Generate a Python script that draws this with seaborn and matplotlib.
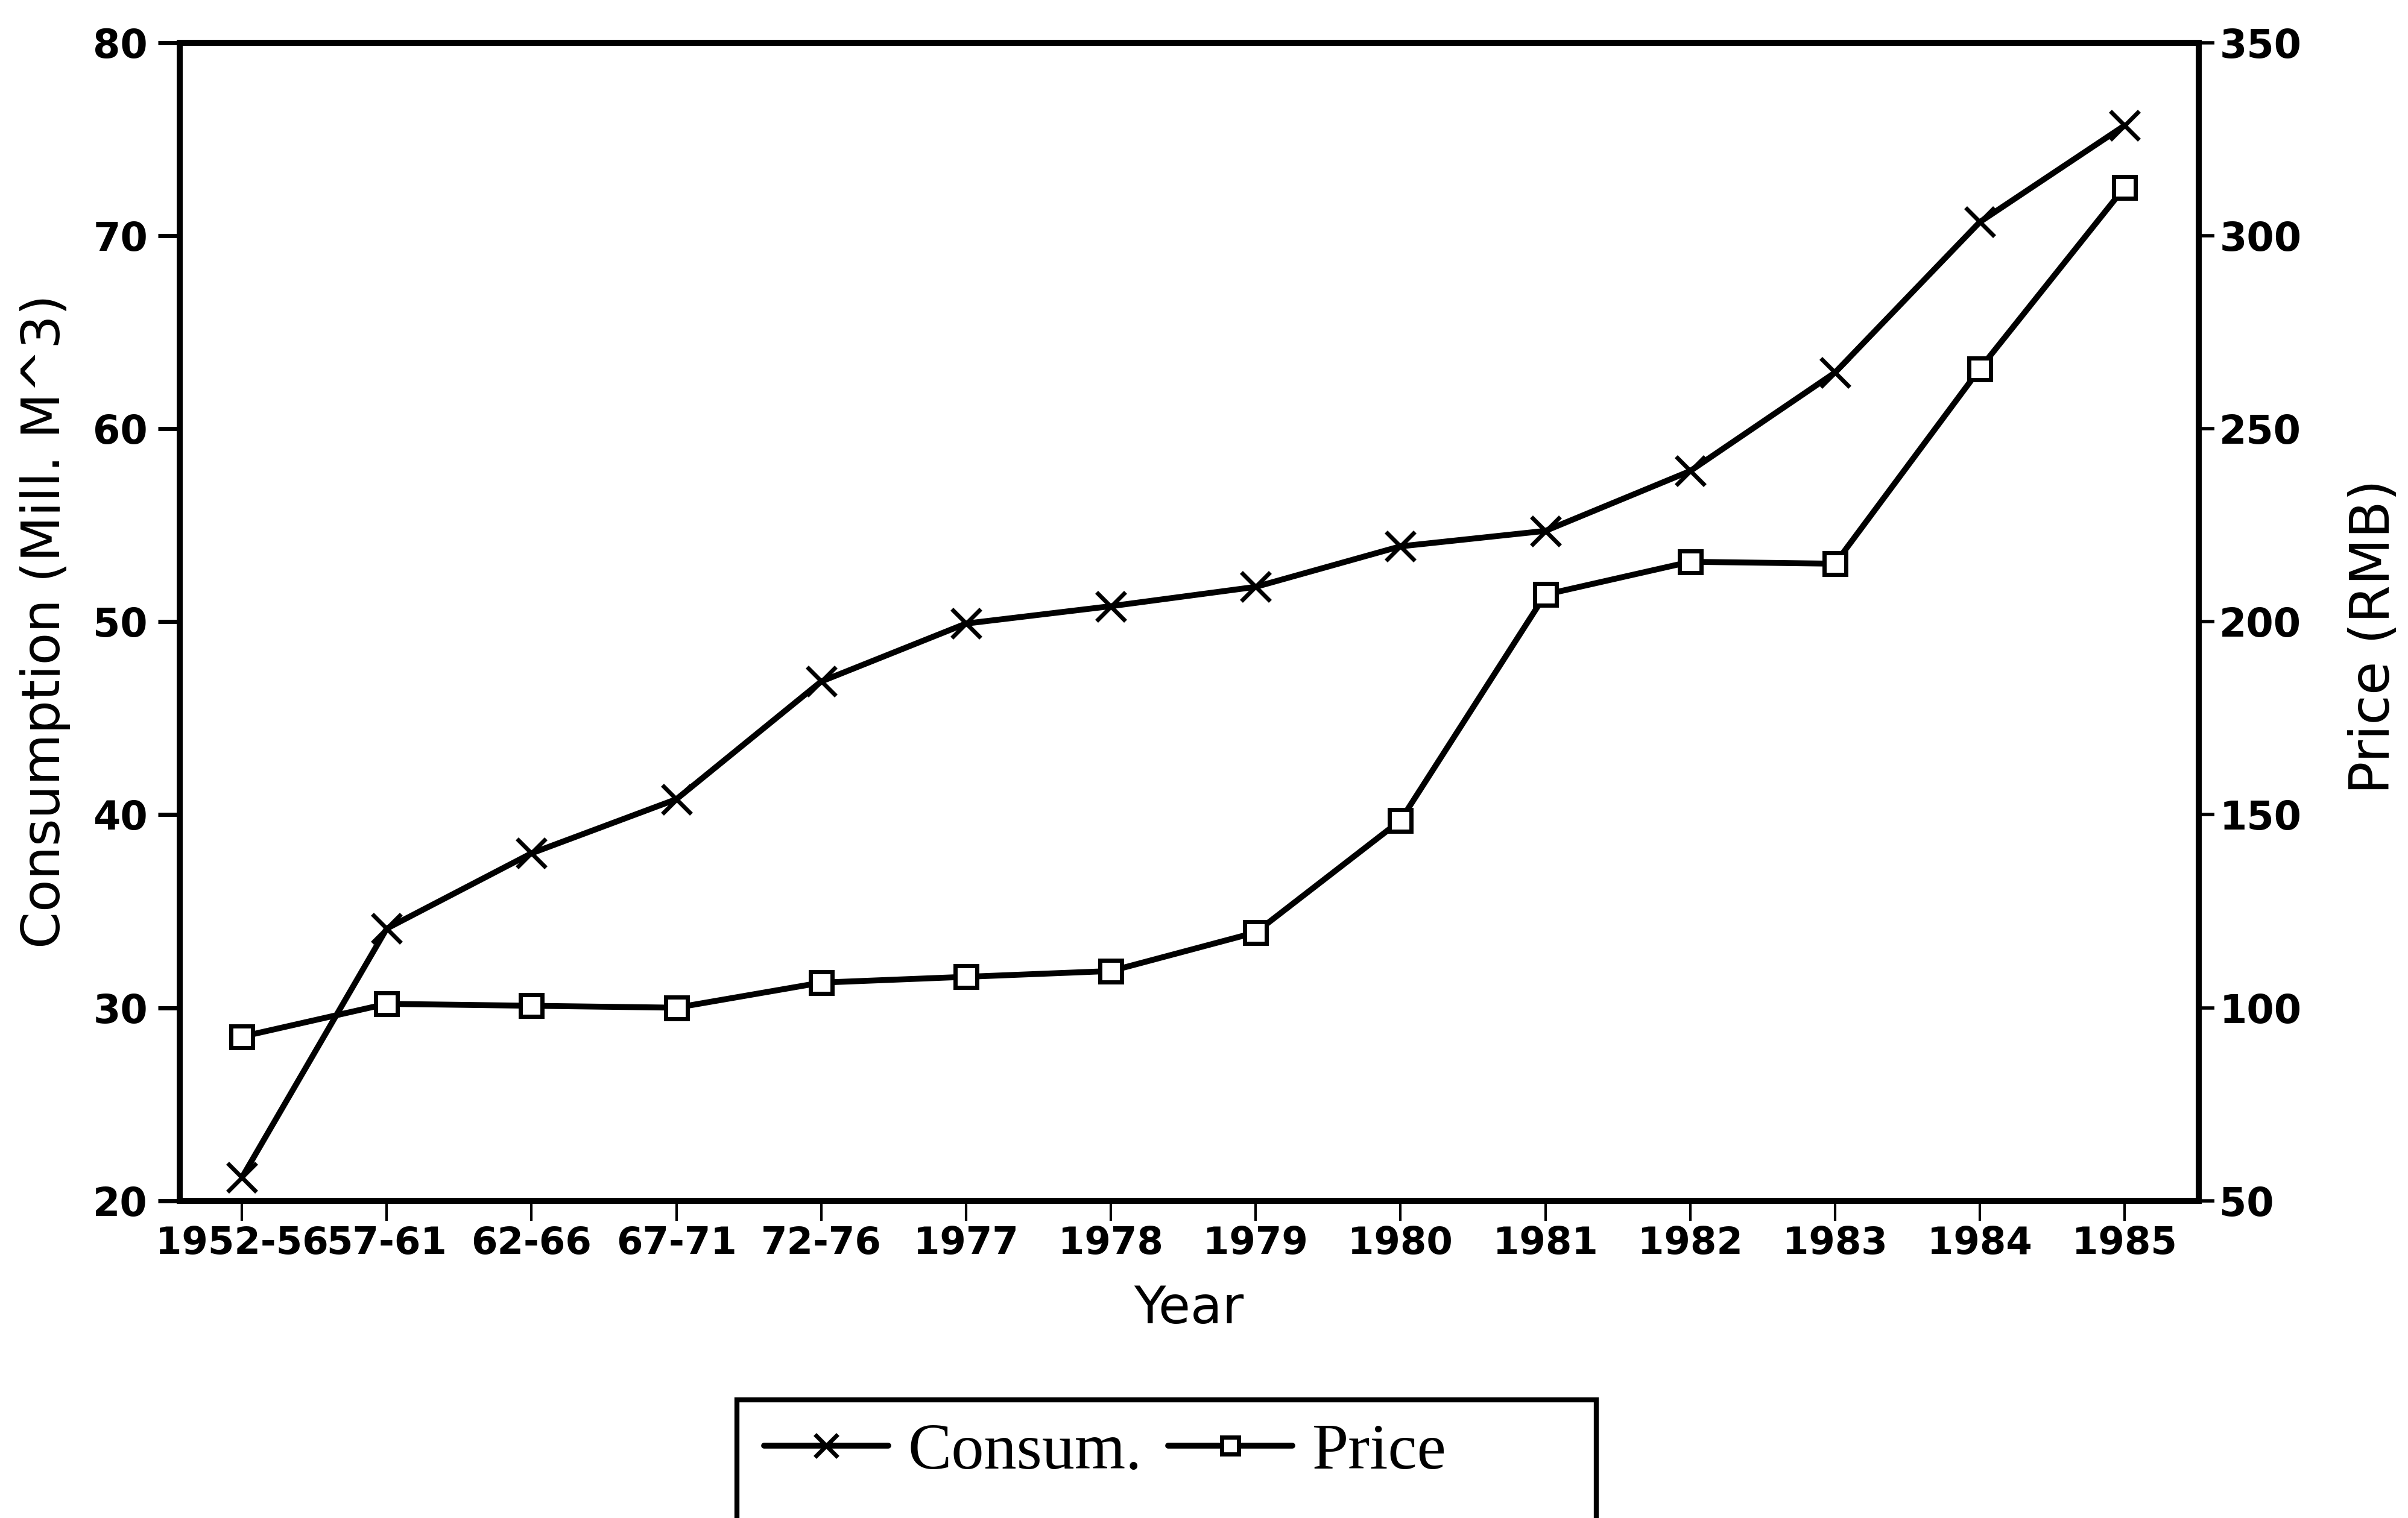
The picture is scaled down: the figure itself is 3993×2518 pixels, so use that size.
import numpy as np
import pandas as pd
import matplotlib
matplotlib.use("Agg")
import matplotlib.pyplot as plt
import seaborn as sns
from matplotlib.patches import Rectangle

# data
years = ["1952-56", "57-61", "62-66", "67-71", "72-76", "1977", "1978",
         "1979", "1980", "1981", "1982", "1983", "1984", "1985"]
consumption = [21.2, 34.1, 38.0, 40.8, 46.9, 49.9, 50.8,
               51.8, 53.9, 54.7, 57.8, 62.9, 70.7, 75.7]
price = [92.5, 101.0, 100.5, 100.0, 106.5, 108.0, 109.5,
         119.5, 148.5, 207.0, 215.5, 215.0, 265.5, 312.5]

df = pd.DataFrame({"pos": np.arange(len(years)), "year": years,
                   "consum": consumption, "price": price})

sns.set_style("ticks")
plt.rcParams["font.family"] = ["DejaVu Sans"]
plt.rcParams["axes.edgecolor"] = "black"
plt.rcParams["text.color"] = "black"
plt.rcParams["axes.labelcolor"] = "black"
plt.rcParams["xtick.color"] = "black"
plt.rcParams["ytick.color"] = "black"

fig, ax = plt.subplots(figsize=(39.93, 25.18), dpi=100)
fig.subplots_adjust(left=0.0746, right=0.913, top=0.972, bottom=0.209)
ax2 = ax.twinx()

sns.lineplot(data=df, x="pos", y="consum", ax=ax, sort=False, color="black",
             linewidth=7, marker="x", markersize=34, markeredgewidth=5,
             markeredgecolor="black", label="Consum.", legend=False)
sns.lineplot(data=df, x="pos", y="price", ax=ax2, sort=False, color="black",
             linewidth=7, marker="s", markersize=26, markeredgewidth=5,
             markerfacecolor="white", markeredgecolor="black",
             label="Price", legend=False)

ax.set_xlim(-0.43, 13.51)
ax.set_ylim(20, 80)
ax2.set_ylim(50, 350)
ax.set_yticks(np.arange(20, 81, 10))
ax2.set_yticks(np.arange(50, 351, 50))
ax.set_xticks(df["pos"], labels=years)

for a in (ax, ax2):
    for s in a.spines.values():
        s.set_linewidth(7)
        s.set_color("black")

ax.tick_params(axis="y", direction="out", length=26, width=5, pad=12,
               labelsize=47)
ax2.tick_params(axis="y", direction="out", length=19, width=4, pad=6,
                labelsize=47)
ax.tick_params(axis="x", direction="out", length=24, width=3, pad=6,
               labelsize=45)
for lab in ax.get_xticklabels() + ax.get_yticklabels() + ax2.get_yticklabels():
    lab.set_fontweight("bold")

ax.set_xlabel("Year", fontsize=62, labelpad=26)
ax.set_ylabel("Consumption (Mill. M^3)", fontsize=63)
ax.yaxis.set_label_coords(-0.054, 0.5)
ax2.set_ylabel("Price (RMB)", fontsize=65)
ax2.yaxis.set_label_coords(1.074, 0.487)

# legend below the axes, boxed, running off the bottom edge
handles = ax.get_lines()[:1] + ax2.get_lines()[:1]
fig.legend(handles, ["Consum.", "Price"], loc="center left",
           bbox_to_anchor=(0.293, 0.043), ncol=2, frameon=False,
           prop={"family": "Liberation Serif", "size": 78},
           handlelength=1.9, handletextpad=0.3, columnspacing=0.4,
           markerscale=0.8)
fig.patches.append(Rectangle((0.306, -0.05), 0.357, 0.128,
                             transform=fig.transFigure, fill=False,
                             edgecolor="black", linewidth=6))

fig.savefig("out.png", dpi=100)
